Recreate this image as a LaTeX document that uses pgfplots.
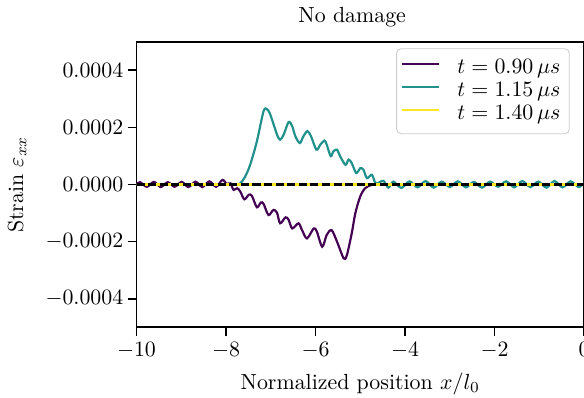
\documentclass[border=0pt]{standalone}
\usepackage{pgfplots}
\pgfplotsset{compat=1.18}
\definecolor{vpurple}{HTML}{440154}
\definecolor{vteal}{HTML}{21918C}
\definecolor{vyellow}{HTML}{FDE725}
\begin{document}
\begin{tikzpicture}
\begin{axis}[
  scale only axis,
  width=204.6pt, height=130.5pt,
  xmin=-10, xmax=0, ymin=-0.0005, ymax=0.0005,
  xtick={-10,-8,-6,-4,-2,0},
  ytick={-0.0004,-0.0002,0,0.0002,0.0004},
  yticklabels={$-0.0004$,$-0.0002$,$0.0000$,$0.0002$,$0.0004$},
  scaled y ticks=false,
  tick align=outside,
  xtick pos=bottom, ytick pos=left,
  major tick length=4pt,
  every tick/.style={black, line width=0.8pt},
  axis line style={line width=0.8pt},
  xticklabel shift=-0.5pt,
  yticklabel shift=-1.5pt,
  every axis title shift=0pt,
  title={No damage},
  title style={at={(axis description cs:0.482,1.066)}, anchor=base, inner sep=0pt},
  xlabel={Normalized position $x/l_0$},
  xlabel style={at={(axis description cs:0.5,-0.218)}, anchor=base, inner sep=0pt},
  ylabel={Strain $\varepsilon_{xx}$},
  ylabel style={at={(axis description cs:-0.267,0.5)}, anchor=center, rotate=0},
  legend cell align=left,
  legend style={at={(axis description cs:0.968,0.977)}, anchor=north east,
    draw=black!20, rounded corners=2pt, fill=white, fill opacity=0.8, text opacity=1,
    row sep=-1.5pt, inner xsep=2pt, inner ysep=3pt,
    /tikz/every odd column/.append style={column sep=6pt}},
  legend image code/.code={\draw[#1, line width=0.8pt] (0pt,2pt) -- (17pt,2pt);},
]
\addplot[vpurple, line width=1pt, smooth, tension=0.5] coordinates {
(-10.00,0) (-9.92,8e-6) (-9.77,-8e-6) (-9.61,9e-6) (-9.46,-9e-6) (-9.30,8e-6)
(-9.15,-8e-6) (-8.99,9e-6) (-8.84,-9e-6) (-8.68,10e-6) (-8.53,-9e-6) (-8.37,11e-6)
(-8.22,-8e-6) (-8.08,16e-6) (-7.98,2e-6) (-7.90,4e-6) (-7.83,-19e-6) (-7.75,-13e-6)
(-7.68,-25e-6) (-7.59,-52e-6) (-7.49,-36e-6) (-7.42,-40e-6) (-7.31,-80e-6)
(-7.22,-63e-6) (-7.16,-68e-6) (-7.05,-107e-6) (-6.94,-89e-6) (-6.86,-99e-6)
(-6.79,-136e-6) (-6.67,-115e-6) (-6.60,-124e-6) (-6.52,-154e-6) (-6.38,-136e-6)
(-6.30,-160e-6) (-6.19,-189e-6) (-6.04,-154e-6) (-5.97,-165e-6) (-5.85,-218e-6)
(-5.75,-177e-6) (-5.64,-160e-6) (-5.52,-200e-6) (-5.37,-259e-6) (-5.30,-248e-6)
(-5.19,-171e-6) (-5.11,-101e-6) (-5.00,-42e-6) (-4.89,-13e-6) (-4.74,-1e-6)
(-4.60,0) (-2,0) (0,0)
};
\addlegendentry{$t = 0.90\,\mu s$}
\addplot[vteal, line width=1pt, smooth, tension=0.5] coordinates {
(-10,0) (-7.80,0) (-7.68,5e-6) (-7.58,25e-6) (-7.46,69e-6) (-7.31,151e-6)
(-7.16,257e-6) (-7.08,263e-6) (-7.01,245e-6) (-6.86,175e-6) (-6.79,157e-6)
(-6.71,175e-6) (-6.60,219e-6) (-6.52,204e-6) (-6.45,169e-6) (-6.35,145e-6)
(-6.27,169e-6) (-6.18,187e-6) (-6.10,169e-6) (-5.98,122e-6) (-5.89,140e-6)
(-5.80,154e-6) (-5.75,140e-6) (-5.66,99e-6) (-5.60,116e-6) (-5.52,122e-6)
(-5.45,99e-6) (-5.33,69e-6) (-5.26,87e-6) (-5.19,75e-6) (-5.09,40e-6)
(-5.00,57e-6) (-4.93,52e-6) (-4.85,22e-6) (-4.74,34e-6) (-4.66,5e-6)
(-4.56,8e-6) (-4.48,13e-6) (-4.37,-11e-6) (-4.26,10e-6) (-4.08,-12e-6)
(-3.90,11e-6) (-3.72,-10e-6) (-3.54,12e-6) (-3.36,-11e-6) (-3.18,10e-6)
(-3.00,-9e-6) (-2.82,11e-6) (-2.64,-10e-6) (-2.46,9e-6) (-2.28,-11e-6)
(-2.10,10e-6) (-1.92,-8e-6) (-1.74,11e-6) (-1.56,-10e-6) (-1.38,12e-6)
(-1.20,-9e-6) (-1.02,10e-6) (-0.84,-11e-6) (-0.66,12e-6) (-0.48,-10e-6)
(-0.30,11e-6) (-0.12,-9e-6) (0,5e-6)
};
\addlegendentry{$t = 1.15\,\mu s$}
\addplot[vyellow, line width=1pt] coordinates {(-10,0) (-5,0) (0,0)};
\addlegendentry{$t = 1.40\,\mu s$}
\addplot[black, line width=1pt, dash pattern=on 3.7pt off 1.6pt, forget plot] coordinates {(-10,0) (0,0)};
\coordinate (SW) at (rel axis cs:0,0);
\coordinate (NE) at (rel axis cs:1,1);
\end{axis}
\pgfresetboundingbox
\path[use as bounding box] ([xshift=-62.4pt,yshift=-32.3pt]SW) rectangle ([yshift=19.1pt]NE);
\end{tikzpicture}
\end{document}
